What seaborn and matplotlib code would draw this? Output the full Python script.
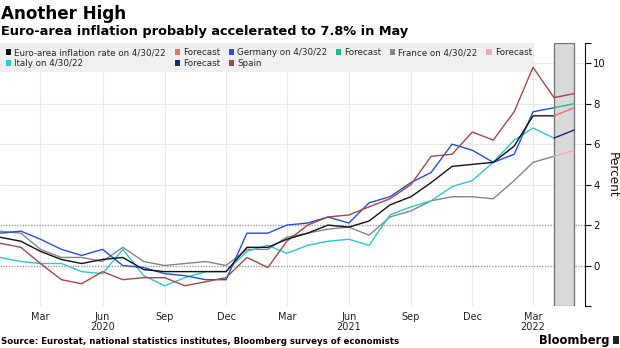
import numpy as np
import pandas as pd
import matplotlib
matplotlib.use("Agg")
import matplotlib.pyplot as plt
import matplotlib.dates as mdates
from matplotlib.patches import Patch, Rectangle
import seaborn as sns

# Monthly HICP inflation, % y/y, Jan 2020 - Apr 2022 (Spain through May 2022)
months = pd.date_range("2020-01-01", "2022-05-01", freq="MS")

euro = [1.4, 1.2, 0.7, 0.3, 0.1, 0.3, 0.4, -0.2, -0.3, -0.3, -0.3, -0.3,
        0.9, 0.9, 1.3, 1.6, 2.0, 1.9, 2.2, 3.0, 3.4, 4.1, 4.9, 5.0,
        5.1, 5.9, 7.4, 7.4]
germany = [1.6, 1.7, 1.3, 0.8, 0.5, 0.8, 0.0, -0.1, -0.4, -0.5, -0.7, -0.7,
           1.6, 1.6, 2.0, 2.1, 2.4, 2.1, 3.1, 3.4, 4.1, 4.6, 6.0, 5.7,
           5.1, 5.5, 7.6, 7.8]
france = [1.7, 1.6, 0.8, 0.4, 0.4, 0.2, 0.9, 0.2, 0.0, 0.1, 0.2, 0.0,
          0.8, 0.8, 1.4, 1.6, 1.8, 1.9, 1.5, 2.4, 2.7, 3.2, 3.4, 3.4,
          3.3, 4.2, 5.1, 5.4]
italy = [0.4, 0.2, 0.1, 0.1, -0.3, -0.4, 0.8, -0.5, -1.0, -0.6, -0.3, -0.3,
         0.7, 1.0, 0.6, 1.0, 1.2, 1.3, 1.0, 2.5, 2.9, 3.2, 3.9, 4.2,
         5.1, 6.2, 6.8, 6.3]
spain = [1.1, 0.9, 0.1, -0.7, -0.9, -0.3, -0.7, -0.6, -0.6, -1.0, -0.8, -0.6,
         0.4, -0.1, 1.2, 2.0, 2.4, 2.5, 2.9, 3.3, 4.0, 5.4, 5.5, 6.6,
         6.2, 7.6, 9.8, 8.3, 8.5]

# May 2022 consensus forecasts
euro_fc = 7.8
germany_fc = 8.0
france_fc = 5.7
italy_fc = 6.7

legend_labels = ["Euro-area inflation rate on 4/30/22", "Italy on 4/30/22",
                 "Forecast", "Forecast", "Germany on 4/30/22", "Spain",
                 "Forecast", "France on 4/30/22", "Forecast"]

colors = {
    "France": "#858585",
    "Italy": "#2fc4cf",
    "Germany": "#2350d8",
    "Spain": "#a34848",
    "Euro area": "#111111",
    "Euro area fc": "#f26b6b",
    "Germany fc": "#1dbb8e",
    "France fc": "#f5a8a8",
    "Italy fc": "#13297a",
}

actual = {"France": france, "Italy": italy, "Germany": germany,
          "Spain": spain, "Euro area": euro}
forecast = {"Euro area fc": (euro, euro_fc), "Germany fc": (germany, germany_fc),
            "France fc": (france, france_fc), "Italy fc": (italy, italy_fc)}

frames = []
for name, vals in actual.items():
    frames.append(pd.DataFrame({"date": months[:len(vals)], "value": vals,
                                "series": name}))
for name, (vals, fc) in forecast.items():
    frames.append(pd.DataFrame({"date": months[len(vals) - 1:len(vals) + 1],
                                "value": [vals[-1], fc], "series": name}))
df = pd.concat(frames, ignore_index=True)

sns.set_style("white")
plt.rcParams["font.family"] = ["DejaVu Sans"]

W, H = 620, 348
fig = plt.figure(figsize=(W / 100, H / 100), dpi=100)
ax_l, ax_r, ax_t, ax_b = 0, 585, 43, 306
ax = fig.add_axes([ax_l / W, 1 - ax_b / H, (ax_r - ax_l) / W, (ax_b - ax_t) / H])

sns.lineplot(data=df, x="date", y="value", hue="series", palette=colors,
             hue_order=list(colors.keys()), estimator=None, linewidth=1.0,
             legend=False, ax=ax, zorder=3)

x0 = mdates.date2num(pd.Timestamp("2020-01-01"))
x1 = mdates.date2num(pd.Timestamp("2022-05-17"))
ax.set_xlim(x0, x1)
ax.set_ylim(-2, 11)

# forecast window
ax.axvspan(pd.Timestamp("2022-04-01"), pd.Timestamp("2022-05-01"),
           facecolor="#d9d9d9", edgecolor="#707070", linewidth=0.9, zorder=1.5)

# x ticks: quarterly months with year under Jun 2020, Jun 2021, Mar 2022
tick_dates = pd.date_range("2020-03-01", "2022-03-01", freq="3MS")
tick_labels = []
for d in tick_dates:
    lab = d.strftime("%b")
    if (d.year in (2020, 2021) and d.month == 6) or (d.year == 2022 and d.month == 3):
        lab += "\n" + str(d.year)
    tick_labels.append(lab)
ax.set_xticks(mdates.date2num(tick_dates))
ax.set_xticklabels(tick_labels)
ax.tick_params(axis="x", length=0, pad=4, labelsize=7.0, colors="#222222")
for lab in ax.get_xticklabels():
    lab.set_linespacing(1.05)

# y axis on the right
ax.yaxis.tick_right()
ax.yaxis.set_label_position("right")
ax.set_yticks([-2, 0, 2, 4, 6, 8, 10])
ax.set_yticklabels(["", "0", "2", "4", "6", "8", "10"])
ax.set_yticks([11], minor=True)
ax.tick_params(axis="y", which="both", direction="out", length=4, width=0.8,
               pad=2, labelsize=7.3, colors="#111111")
ax.set_ylabel("Percent", rotation=270, fontsize=8.7, labelpad=9, color="#111111")
ax.set_xlabel("")

for side in ("top", "left", "bottom"):
    ax.spines[side].set_visible(False)
ax.spines["right"].set_color("#111111")
ax.spines["right"].set_linewidth(0.8)

# grid
for d in tick_dates:
    ax.axvline(d, color="#e9e9e9", linewidth=0.8, zorder=0)
for y in (4, 6, 8, 10):
    ax.axhline(y, color="#e9e9e9", linewidth=0.8, zorder=0)
for y in (0, 2):
    ax.axhline(y, color="#a0a0a0", linewidth=1.0, linestyle=(0, (1, 1)), zorder=0.5)

# legend
ax.add_patch(Rectangle((0, (ax_b - 72) / (ax_b - ax_t)), (533 - ax_l) / (ax_r - ax_l),
                       1 - (ax_b - 72) / (ax_b - ax_t), transform=ax.transAxes,
                       facecolor="#f0f0f0", edgecolor="none", zorder=2))
legend_colors = [colors["Euro area"], colors["Italy"], colors["Euro area fc"],
                 colors["Italy fc"], colors["Germany"], colors["Spain"],
                 colors["Germany fc"], colors["France"], colors["France fc"]]
handles = [Patch(facecolor=c, edgecolor="none", label=l)
           for c, l in zip(legend_colors, legend_labels)]
ax.legend(handles=handles, ncol=6, loc="upper left",
          bbox_to_anchor=(6 / (ax_r - ax_l), (ax_b - 48) / (ax_b - ax_t)),
          frameon=False, fontsize=6.35, handlelength=0.6, handleheight=0.6,
          handletextpad=0.35, columnspacing=0.98, labelspacing=0.25,
          borderaxespad=0, borderpad=0)

# titles and footer
fig.text(1 / W, 1 - 19 / H, "Another High", fontsize=12.1, fontweight="bold",
         va="baseline", ha="left", color="#000000")
fig.text(1 / W, 1 - 35 / H, "Euro-area inflation probably accelerated to 7.8% in May",
         fontsize=9.3, fontweight="bold", va="baseline", ha="left", color="#000000")
fig.text(1 / W, 1 - 344 / H,
         "Source: Eurostat, national statistics institutes, Bloomberg surveys of economists",
         fontsize=6.2, fontweight="bold", va="baseline", ha="left", color="#000000")
fig.text(610 / W, 1 - 344 / H, "Bloomberg", fontsize=8.3, fontweight="bold",
         va="baseline", ha="right", color="#000000")
# small logo mark next to the wordmark
fig.patches.append(Rectangle((612.5 / W, 1 - 344 / H), 6.5 / W, 8 / H,
                             transform=fig.transFigure, facecolor="#222222",
                             edgecolor="none"))

fig.savefig("out.png", dpi=100)
